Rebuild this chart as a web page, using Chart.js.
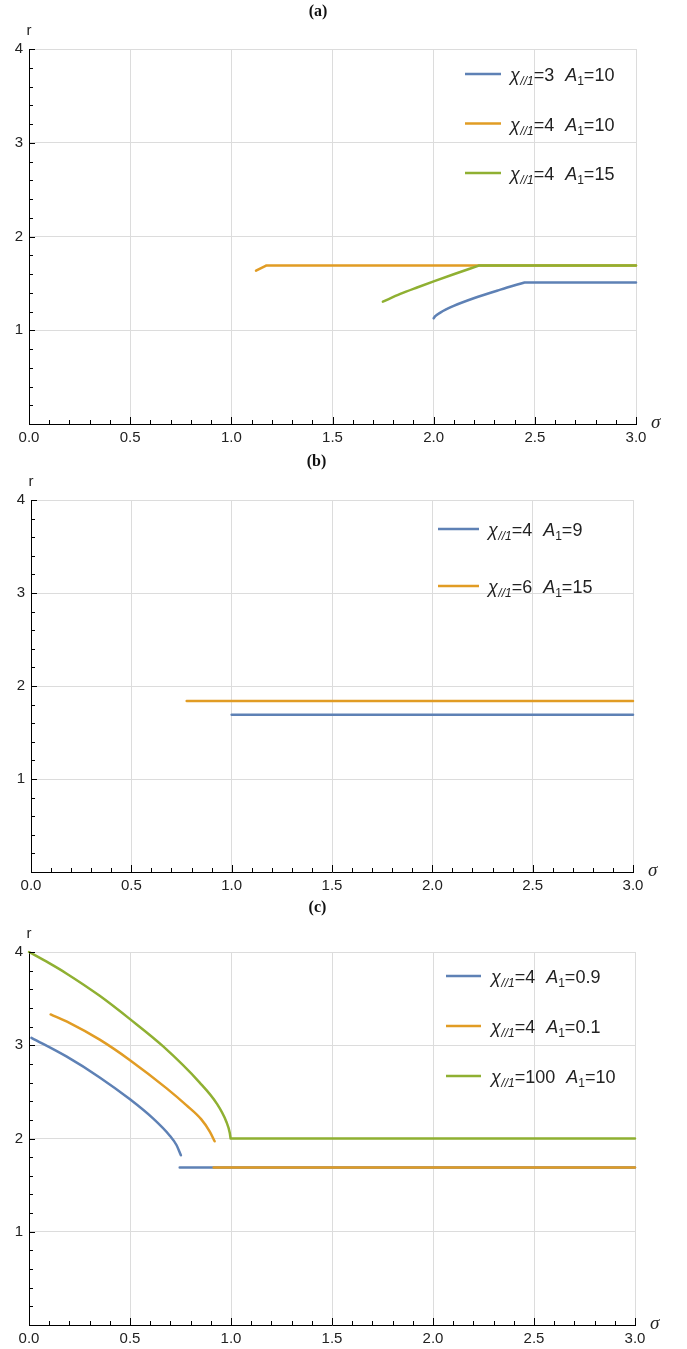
<!DOCTYPE html>
<html>
<head>
<meta charset="utf-8">
<script src="https://cdn.jsdelivr.net/npm/chart.js@4.4.0/dist/chart.umd.min.js"></script>
<style>
  html, body { margin: 0; padding: 0; background: #fff; }
  body { width: 687px; height: 1349px; position: relative; overflow: hidden; }
  canvas { position: absolute; left: 0; }
</style>
</head>
<body>
<canvas id="chartA" width="687" height="450" style="top:0"></canvas>
<canvas id="chartB" width="687" height="448" style="top:450px"></canvas>
<canvas id="chartC" width="687" height="451" style="top:898px"></canvas>
<script>
// axis ticks
const sigmaTicks = [0, 0.5, 1, 1.5, 2, 2.5, 3];
const rTicks = [0, 1, 2, 3, 4];

// null = break in the curve (the kink point is repeated after it)

// (a)
const aBlueSigma = [2.0, 2.008, 2.033, 2.099, 2.198, 2.33, 2.449, null, 2.449, 3.0];
const aBlueR = [1.127, 1.15, 1.188, 1.259, 1.341, 1.433, 1.51, null, 1.51, 1.51];
const aOrangeSigma = [1.122, 1.172, null, 1.172, 3.0];
const aOrangeR = [1.635, 1.69, null, 1.69, 1.69];
const aGreenSigma = [1.749, 1.835, 1.918, 2.0, 2.099, 2.223, null, 2.223, 3.0];
const aGreenR = [1.305, 1.387, 1.456, 1.521, 1.597, 1.69, null, 1.69, 1.69];
const aChi = ['3', '4', '4'];
const aAmp = ['10', '10', '15'];

// (b)
const bBlueSigma = [1.0, 3.0];
const bBlueR = [1.69, 1.69];
const bOrangeSigma = [0.776, 3.0];
const bOrangeR = [1.84, 1.84];
const bChi = ['4', '6'];
const bAmp = ['9', '15'];

// (c)
const cBlueSigma = [0.012, 0.185, 0.35, 0.5, 0.614, 0.697, 0.73, 0.752, null, 0.746, 3.0];
const cBlueR = [3.08, 2.88, 2.655, 2.42, 2.215, 2.03, 1.93, 1.82, null, 1.69, 1.69];
const cOrangeSigma = [0.107, 0.2, 0.35, 0.5, 0.68, 0.78, 0.853, 0.895, 0.919, null, 0.914, 3.0];
const cOrangeR = [3.33, 3.24, 3.06, 2.84, 2.54, 2.355, 2.205, 2.075, 1.97, null, 1.69, 1.69];
const cGreenSigma = [0, 0.1, 0.185, 0.35, 0.5, 0.663, 0.845, 0.928, 0.977, 0.994, 0.998, null, 0.998, 3.0];
const cGreenR = [4.0, 3.88, 3.77, 3.53, 3.28, 2.99, 2.6, 2.38, 2.18, 2.06, 2.0, null, 2.0, 2.0];
const cChi = ['4', '4', '100'];
const cAmp = ['0.9', '0.1', '10'];

const BLUE = '#5e81b5';
const ORANGE = '#e19c24';
const GREEN = '#8fb032';
const COLORS = [BLUE, ORANGE, GREEN];

function pts(sig, r) {
  return sig.map((s, i) => ({ x: s, y: r[i] }));
}

function makeSets(series, chi, amp) {
  return series.map((s, i) => ({
    label: 'χ//1=' + chi[i] + '  A1=' + amp[i],
    data: pts(s[0], s[1]),
    borderColor: COLORS[i],
    backgroundColor: COLORS[i],
    borderWidth: 2.5,
    borderCapStyle: 'round',
    borderJoinStyle: 'round',
    pointRadius: 0,
    cubicInterpolationMode: 'monotone',
    fill: false,
    spanGaps: false,
    clip: false,
    order: series.length - i
  }));
}

// inward ticks, minor ticks, axis names
const axisDecor = {
  id: 'axisDecor',
  afterDraw(chart) {
    const { ctx, chartArea: a, scales: { x, y } } = chart;
    ctx.save();
    ctx.strokeStyle = '#000';
    ctx.lineWidth = 1;
    ctx.beginPath();
    for (let i = 1; i <= 30; i++) {
      const px = Math.round(x.getPixelForValue(i / 10)) + 0.5;
      const len = i % 5 === 0 ? 7 : 4;
      ctx.moveTo(px, a.bottom);
      ctx.lineTo(px, a.bottom - len);
    }
    for (let j = 1; j <= 20; j++) {
      const py = Math.round(y.getPixelForValue(j / 5)) + 0.5;
      const len = j % 5 === 0 ? 6 : 4;
      ctx.moveTo(a.left, py);
      ctx.lineTo(a.left + len, py);
    }
    ctx.stroke();
    ctx.fillStyle = '#222';
    ctx.font = '15px "Liberation Sans"';
    ctx.textAlign = 'center';
    ctx.textBaseline = 'alphabetic';
    ctx.fillText('r', a.left, a.top - 14);
    ctx.font = 'italic 19px "Liberation Serif"';
    ctx.textAlign = 'left';
    ctx.fillText('σ', a.right + 15, a.bottom + 4);
    ctx.restore();
  }
};

// legend with sub-scripts
const mathLegend = {
  id: 'mathLegend',
  afterDraw(chart, args, opts) {
    const ctx = chart.ctx;
    ctx.save();
    chart.data.datasets.forEach((ds, i) => {
      const yy = opts.y + i * opts.dy;
      ctx.strokeStyle = ds.borderColor;
      ctx.lineWidth = 2.5;
      ctx.beginPath();
      ctx.moveTo(opts.x, yy);
      ctx.lineTo(opts.x + opts.len, yy);
      ctx.stroke();
      const parts = [
        ['χ', 'italic 18px "Liberation Sans"', 0, 0],
        ['//1', 'italic 12px "Liberation Sans"', 4, 0.5],
        ['=' + opts.chi[i], '18px "Liberation Sans"', 0, 0],
        ['A', 'italic 18px "Liberation Sans"', 0, 11],
        ['1', '12px "Liberation Sans"', 4, 0],
        ['=' + opts.amp[i], '18px "Liberation Sans"', 0, 0]
      ];
      let tx = opts.textX;
      ctx.fillStyle = '#222';
      ctx.textAlign = 'left';
      ctx.textBaseline = 'alphabetic';
      parts.forEach(p => {
        tx += p[3];
        ctx.font = p[1];
        ctx.fillText(p[0], tx, yy + 7 + p[2]);
        tx += ctx.measureText(p[0]).width;
      });
    });
    ctx.restore();
  }
};

function makePanel(id, title, datasets, geo, legend) {
  const canvas = document.getElementById(id);
  return new Chart(canvas, {
    type: 'line',
    data: { datasets: datasets },
    options: {
      responsive: false,
      animation: false,
      devicePixelRatio: 1,
      layout: { padding: { left: 0, right: 687 - geo.right, top: 0, bottom: 0 } },
      plugins: {
        legend: { display: false },
        tooltip: { enabled: false },
        title: {
          display: true,
          text: title,
          color: '#111',
          font: { family: 'Liberation Serif', weight: 'bold', size: 16, lineHeight: 1.2 },
          padding: { top: geo.titleTop, bottom: geo.top - geo.titleTop - 19.2 }
        },
        mathLegend: legend
      },
      scales: {
        x: {
          type: 'linear',
          min: 0,
          max: 3,
          afterBuildTicks(scale) { scale.ticks = sigmaTicks.map(v => ({ value: v })); },
          afterFit(scale) { scale.height = canvas.height - geo.bottom; },
          ticks: {
            callback: v => Number(v).toFixed(1),
            color: '#222',
            padding: 5,
            maxRotation: 0,
            font: { family: 'Liberation Sans', size: 15 }
          },
          grid: { color: '#dcdcdc', drawTicks: false },
          border: { color: '#000', width: 1 }
        },
        y: {
          type: 'linear',
          min: 0,
          max: 4,
          afterBuildTicks(scale) { scale.ticks = rTicks.map(v => ({ value: v })); },
          afterFit(scale) { scale.width = geo.left; },
          ticks: {
            callback: v => (v === 0 ? '' : String(v)),
            color: '#222',
            padding: 6,
            font: { family: 'Liberation Sans', size: 15 }
          },
          grid: { color: '#dcdcdc', drawTicks: false },
          border: { color: '#000', width: 1 }
        }
      }
    },
    plugins: [axisDecor, mathLegend]
  });
}

makePanel('chartA', '(a)',
  makeSets([[aBlueSigma, aBlueR], [aOrangeSigma, aOrangeR], [aGreenSigma, aGreenR]], aChi, aAmp),
  { left: 29, right: 636, top: 49, bottom: 424, titleTop: 2 },
  { x: 465, len: 36, textX: 510, y: 74, dy: 49.5, chi: aChi, amp: aAmp });

makePanel('chartB', '(b)',
  makeSets([[bBlueSigma, bBlueR], [bOrangeSigma, bOrangeR]], bChi, bAmp),
  { left: 31, right: 633, top: 50, bottom: 422, titleTop: 2 },
  { x: 438, len: 41, textX: 488, y: 79, dy: 57, chi: bChi, amp: bAmp });

makePanel('chartC', '(c)',
  makeSets([[cBlueSigma, cBlueR], [cOrangeSigma, cOrangeR], [cGreenSigma, cGreenR]], cChi, cAmp),
  { left: 29, right: 635, top: 54, bottom: 427, titleTop: 0 },
  { x: 446, len: 35, textX: 491, y: 78, dy: 50, chi: cChi, amp: cAmp });
</script>
</body>
</html>
